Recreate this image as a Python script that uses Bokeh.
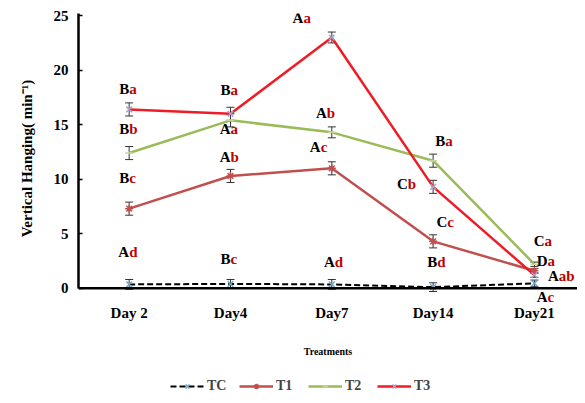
from bokeh.plotting import figure
from bokeh.layouts import column
from bokeh.models import (Range1d, Whisker, ColumnDataSource, Legend, LegendItem,
                          TeeHead, FixedTicker, LabelSet, Span)
from bokeh.core.properties import value
from bokeh.embed import file_html
from bokeh.resources import INLINE

days = ["Day 2", "Day4", "Day7", "Day14", "Day21"]
tc = [0.35, 0.4, 0.35, 0.1, 0.45]
tc_err = [0.45, 0.4, 0.45, 0.4, 0.3]
t1 = [7.3, 10.3, 11.0, 4.3, 1.6]
t1_err = [0.6, 0.6, 0.6, 0.6, 0.2]
t2 = [12.4, 15.4, 14.3, 11.7, 2.2]
t2_err = [0.6, 0.6, 0.5, 0.6, 0.2]
t3 = [16.4, 16.0, 23.0, 9.3, 1.2]
t3_err = [0.6, 0.6, 0.5, 0.6, 0.2]

# significance letters (upper: between days, lower: between treatments)
lab_upper = ["B", "B", "B", "A",  "B", "A", "A", "B",  "A", "A", "A", "A",  "B", "C", "C", "B",  "C", "D", "A", "A"]
lab_lower = ["a", "b", "c", "d",  "a", "a", "b", "c",  "a", "b", "c", "d",  "a", "b", "c", "d",  "a", "a", "ab", "c"]
lab_x = [0.0, 0.0, 0.0, 0.0,  1.0, 1.0, 1.0, 1.0,  1.72, 1.95, 1.89, 2.03,  3.12, 2.75, 3.14, 3.04,  4.1, 4.13, 4.24, 4.13]
lab_y = [18.3, 14.6, 10.1, 3.3,  18.2, 14.6, 12.0, 2.7,  24.8, 16.1, 13.0, 2.4,  13.5, 9.6, 6.1, 2.4,  4.3, 2.5, 1.1, -0.8]

xs = list(range(len(days)))
FONT = "Liberation Serif"

p = figure(width=577, height=368, output_backend="svg", toolbar_location=None,
           x_range=Range1d(-0.5, 4.425), y_range=Range1d(-1.4, 25.2),
           min_border_left=78, min_border_right=0, min_border_top=13, min_border_bottom=65)
p.outline_line_color = None
p.xgrid.grid_line_color = None
p.ygrid.grid_line_color = None
p.background_fill_color = "white"

# x axis: labels only, baseline drawn at zero
p.xaxis.ticker = FixedTicker(ticks=xs)
p.xaxis.major_label_overrides = {i: d for i, d in enumerate(days)}
p.xaxis.axis_line_color = None
p.xaxis.axis_label = "Treatments"
p.xaxis.axis_label_text_font = FONT
p.xaxis.axis_label_text_font_style = "bold"
p.xaxis.axis_label_text_font_size = "10px"
p.xaxis.axis_label_standoff = 22
p.xaxis.major_tick_line_color = None
p.xaxis.major_tick_in = 0
p.xaxis.major_tick_out = 0
p.xaxis.minor_tick_line_color = None
p.xaxis.major_label_standoff = 1
p.add_layout(Span(location=0, dimension="width", line_color="black", line_width=2.5))

p.yaxis.bounds = (0, 25.2)
p.yaxis.ticker = FixedTicker(ticks=[0, 5, 10, 15, 20, 25])
p.yaxis.axis_label = "Vertical Hanging( min\u207b\u00b9)"
p.yaxis.axis_label_text_font = FONT
p.yaxis.axis_label_text_font_style = "bold"
p.yaxis.axis_label_text_font_size = "15px"
p.yaxis.axis_label_standoff = 16
p.yaxis.axis_line_width = 2.5
p.yaxis.axis_line_color = "black"
p.yaxis.major_tick_line_width = 1.5
p.yaxis.major_tick_in = 4
p.yaxis.major_tick_out = 0
p.yaxis.minor_tick_line_color = None
p.yaxis.major_label_standoff = 10

for ax in (p.xaxis, p.yaxis):
    ax.major_label_text_font = FONT
    ax.major_label_text_font_style = "bold"
    ax.major_label_text_font_size = "15px"
    ax.major_label_text_color = "black"
    ax.axis_label_text_color = "black"

series = [
    ("TC", tc, tc_err, "black", "6 3", "x", "#6fa8c8", 2.0),
    ("T1", t1, t1_err, "#c0504d", "solid", "asterisk", "#c0504d", 2.5),
    ("T2", t2, t2_err, "#9bbb59", "solid", "dash", "#c5d89a", 2.5),
    ("T3", t3, t3_err, "#ee1c24", "solid", "x", "#a9a0c8", 2.5),
]

# separate strip holding the legend, below the chart
leg = figure(width=577, height=30, output_backend="svg", toolbar_location=None,
             x_range=Range1d(0, 1), y_range=Range1d(-100, -99),
             min_border_left=0, min_border_right=0, min_border_top=0, min_border_bottom=0,
             x_axis_type=None, y_axis_type=None)
leg.outline_line_color = None
leg.xgrid.grid_line_color = None
leg.ygrid.grid_line_color = None

items = []
for name, vals, errs, color, dash, marker, mcolor, lw in series:
    src = ColumnDataSource(dict(x=xs, y=vals,
                                lo=[v - e for v, e in zip(vals, errs)],
                                hi=[v + e for v, e in zip(vals, errs)]))
    p.line("x", "y", source=src, line_color=color, line_width=lw, line_dash=dash)
    p.scatter("x", "y", source=src, marker=marker, size=8, line_color=mcolor,
              fill_color=mcolor, line_width=1.5)
    w = Whisker(source=src, base="x", lower="lo", upper="hi", line_color="#333333",
                line_width=1,
                upper_head=TeeHead(size=8, line_color="#333333", line_width=1),
                lower_head=TeeHead(size=8, line_color="#333333", line_width=1))
    p.add_layout(w)
    l1 = leg.line("x", "y", source=src, line_color=color, line_width=lw, line_dash=dash)
    l2 = leg.scatter("x", "y", source=src, marker=marker, size=8, line_color=mcolor,
                     fill_color=mcolor, line_width=1.5)
    items.append(LegendItem(label=name, renderers=[l1, l2]))

lab_src = ColumnDataSource(dict(x=lab_x, y=lab_y, up=lab_upper, lo=lab_lower))
p.add_layout(LabelSet(x="x", y="y", text="up", source=lab_src, text_align="right",
                      text_baseline="middle", text_font=value(FONT), text_font_style="bold",
                      text_font_size="15px", text_color="black"))
p.add_layout(LabelSet(x="x", y="y", text="lo", source=lab_src, text_align="left",
                      text_baseline="middle", text_font=value(FONT), text_font_style="bold",
                      text_font_size="15px", text_color="#c00000"))

legend = Legend(items=items, orientation="horizontal", location=(92, 4),
                glyph_width=34, glyph_height=14, label_standoff=3, spacing=10,
                padding=2, margin=0, border_line_color=None, background_fill_alpha=0,
                label_text_font=FONT, label_text_font_style="bold",
                label_text_font_size="14px", label_height=14, label_width=22)
leg.add_layout(legend, "center")

layout = column(p, leg, spacing=0)
open("out.html", "w").write(file_html(layout, INLINE))
